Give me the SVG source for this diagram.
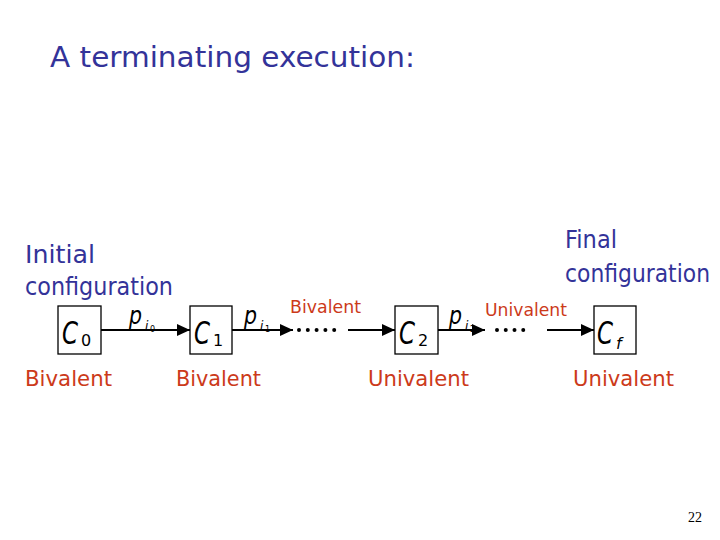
<svg xmlns="http://www.w3.org/2000/svg" width="720" height="540" viewBox="0 0 720 540">
<defs>
<marker id="ah" markerUnits="userSpaceOnUse" markerWidth="14" markerHeight="12" refX="13" refY="6" orient="auto">
<path d="M0,0 L13,6 L0,12 Z" fill="#000"/>
</marker>
<style>
.box{fill:#fff;stroke:#000;stroke-width:1.3}
.c{font-family:"DejaVu Sans","Liberation Sans",sans-serif;font-style:italic;font-size:32px;fill:#000}
.sub{font-family:"DejaVu Sans","Liberation Sans",sans-serif;font-size:16px;fill:#000}
.p{font-family:"DejaVu Sans","Liberation Sans",sans-serif;font-style:italic;font-size:24px;fill:#000}
.ps{font-family:"DejaVu Sans","Liberation Sans",sans-serif;font-style:italic;font-size:12px;fill:#000}
.pss{font-family:"DejaVu Sans","Liberation Sans",sans-serif;font-size:8px;fill:#000}
.blue{font-family:"DejaVu Sans","Liberation Sans",sans-serif;fill:#333399}
.red{font-family:"DejaVu Sans","Liberation Sans",sans-serif;fill:#cc3a1a}
.ln{stroke:#000;stroke-width:2;fill:none}
.dots{stroke:#000;stroke-width:4;stroke-linecap:round;fill:none}
</style>
</defs>
<rect width="720" height="540" fill="#fff"/>
<text class="blue" x="50" y="67" font-size="28" textLength="365" lengthAdjust="spacingAndGlyphs">A terminating execution:</text>

<g id="label-initial">
<text class="blue" x="25" y="263" font-size="25" textLength="70" lengthAdjust="spacingAndGlyphs">Initial</text>
<text class="blue" x="25" y="295" font-size="25" textLength="148" lengthAdjust="spacingAndGlyphs">configuration</text>
</g>
<g id="label-final">
<text class="blue" x="565" y="248" font-size="25" textLength="52" lengthAdjust="spacingAndGlyphs">Final</text>
<text class="blue" x="565" y="282" font-size="25" textLength="145" lengthAdjust="spacingAndGlyphs">configuration</text>
</g>

<g id="connectors">
<line class="ln" x1="101" y1="330" x2="190" y2="330" marker-end="url(#ah)"/>
<line class="ln" x1="232" y1="330" x2="293" y2="330" marker-end="url(#ah)"/>
<line class="dots" x1="299" y1="330" x2="343" y2="330" stroke-dasharray="0 8.8"/>
<line class="ln" x1="348" y1="330" x2="395" y2="330" marker-end="url(#ah)"/>
<line class="ln" x1="438" y1="330" x2="485" y2="330" marker-end="url(#ah)"/>
<line class="dots" x1="497" y1="330" x2="532" y2="330" stroke-dasharray="0 8.75"/>
<line class="ln" x1="547" y1="330" x2="594" y2="330" marker-end="url(#ah)"/>
<g id="edge-label-p0"><text class="p" x="129" y="324" textLength="13" lengthAdjust="spacingAndGlyphs">p</text><text class="ps" x="145" y="330">i</text><text class="pss" x="150" y="332">0</text></g>
<g id="edge-label-p1"><text class="p" x="244" y="324" textLength="13" lengthAdjust="spacingAndGlyphs">p</text><text class="ps" x="260" y="330">i</text><text class="pss" x="265" y="332">1</text></g>
<g id="edge-label-p2"><text class="p" x="449" y="324" textLength="13" lengthAdjust="spacingAndGlyphs">p</text><text class="ps" x="465" y="330">i</text><text class="pss" x="470" y="332">2</text></g>
<text class="red" x="290" y="313" font-size="17" textLength="71" lengthAdjust="spacingAndGlyphs">Bivalent</text>
<text class="red" x="485" y="316" font-size="17" textLength="82" lengthAdjust="spacingAndGlyphs">Univalent</text>
</g>

<g id="node-c0">
<rect class="box" x="58" y="306" width="43" height="48"/>
<text class="c" x="62" y="344" textLength="16" lengthAdjust="spacingAndGlyphs">C</text><text class="sub" x="81" y="346">0</text>
</g>
<g id="node-c1">
<rect class="box" x="190" y="306" width="42" height="48"/>
<text class="c" x="194" y="344" textLength="16" lengthAdjust="spacingAndGlyphs">C</text><text class="sub" x="213" y="346">1</text>
</g>
<g id="node-c2">
<rect class="box" x="395" y="306" width="43" height="48"/>
<text class="c" x="399" y="344" textLength="16" lengthAdjust="spacingAndGlyphs">C</text><text class="sub" x="418" y="346">2</text>
</g>
<g id="node-cf">
<rect class="box" x="594" y="306" width="42" height="48"/>
<text class="c" x="597" y="344" textLength="16" lengthAdjust="spacingAndGlyphs">C</text><text class="sub" x="616" y="349" font-style="italic">f</text>
</g>

<g id="state-labels">
<text class="red" x="25" y="386" font-size="22" textLength="87" lengthAdjust="spacingAndGlyphs">Bivalent</text>
<text class="red" x="176" y="386" font-size="22" textLength="85" lengthAdjust="spacingAndGlyphs">Bivalent</text>
<text class="red" x="368" y="386" font-size="22" textLength="101" lengthAdjust="spacingAndGlyphs">Univalent</text>
<text class="red" x="573" y="386" font-size="22" textLength="101" lengthAdjust="spacingAndGlyphs">Univalent</text>
</g>
<text x="688" y="522" font-family="Liberation Serif, serif" font-size="14" fill="#000">22</text>
</svg>
